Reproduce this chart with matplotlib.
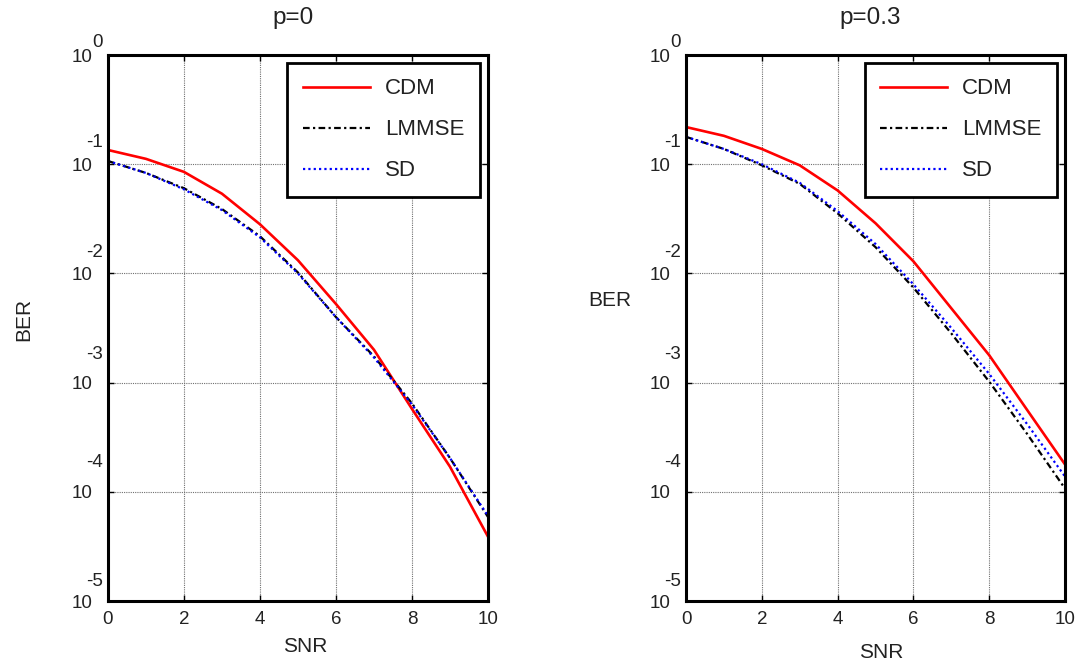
import matplotlib
matplotlib.use("Agg")
import matplotlib.pyplot as plt
import matplotlib.transforms as mtransforms
from matplotlib.ticker import NullLocator

plt.rcParams['font.family'] = ['Liberation Sans', 'DejaVu Sans']

# SNR axis (dB)
snr = [0, 1, 2, 3, 4, 5, 6, 7, 8, 9, 10]

# Bit error rate, p = 0
ber_cdm_p0 = [0.135, 0.112, 0.0851, 0.0537, 0.0282, 0.0132, 0.00525, 0.00200,
              5.75e-4, 1.70e-4, 3.89e-5]
ber_lmmse_p0 = [0.107, 0.0832, 0.0603, 0.0389, 0.0219, 0.0102, 0.00398, 0.00174,
                6.46e-4, 2.04e-4, 5.89e-5]
ber_sd_p0 = [0.107, 0.0832, 0.0589, 0.0380, 0.0214, 0.0100, 0.00398, 0.00170,
             6.31e-4, 2.04e-4, 6.03e-5]

# Bit error rate, p = 0.3
ber_cdm_p03 = [0.219, 0.182, 0.138, 0.0977, 0.0575, 0.0288, 0.0129, 0.00479,
               0.00178, 5.62e-4, 1.78e-4]
ber_lmmse_p03 = [0.178, 0.138, 0.0977, 0.0661, 0.0355, 0.0174, 0.00741, 0.00282,
                 0.00102, 3.39e-4, 1.07e-4]
ber_sd_p03 = [0.178, 0.138, 0.100, 0.0676, 0.0372, 0.0186, 0.00794, 0.00316,
              0.00120, 4.17e-4, 1.38e-4]

titles = ['p=0', 'p=0.3']
series_names = ['CDM', 'LMMSE', 'SD']
x_ticks = [0, 2, 4, 6, 8, 10]
y_exponents = [0, -1, -2, -3, -4, -5]

TEXT = '#222222'

fig = plt.figure(figsize=(10.86, 6.63), dpi=100)
ax_left = fig.add_axes([0.0994, 0.0935, 0.3499, 0.8235])
ax_right = fig.add_axes([0.6317, 0.0935, 0.3490, 0.8235])

panels = [
    (ax_left, titles[0], [ber_cdm_p0, ber_lmmse_p0, ber_sd_p0]),
    (ax_right, titles[1], [ber_cdm_p03, ber_lmmse_p03, ber_sd_p03]),
]

styles = [
    dict(color='#ff0000', lw=1.9, linestyle='-'),
    dict(color='black', lw=1.6, linestyle=(0, (3, 1.5, 1, 1.5))),
    dict(color='#0000ff', lw=1.6, linestyle=(0, (1, 1.4))),
]

# exponent offsets (points above the "10") for each decade label
exp_offsets = [9, 16, 15, 20, 21, 14]

for ax, title, data in panels:
    for vals, name, st in zip(data, series_names, styles):
        ax.plot(snr, vals, label=name, **st)
    ax.set_yscale('log')
    ax.set_xlim(0, 10)
    ax.set_ylim(1e-5, 1)
    ax.set_xticks(x_ticks)
    ax.set_xticklabels([str(t) for t in x_ticks])
    ax.set_yticks([10.0 ** e for e in y_exponents])
    ax.set_yticklabels(['10'] * len(y_exponents))
    ax.yaxis.set_minor_locator(NullLocator())
    ax.grid(True, which='major', color='#707070', linestyle=(0, (1, 1)), lw=0.8)
    ax.tick_params(axis='both', direction='in', length=4, width=1,
                   top=True, right=True, labelsize=13.5, colors='black',
                   labelcolor=TEXT)
    ax.tick_params(axis='y', pad=11)
    ax.tick_params(axis='x', pad=7)
    for sp in ax.spines.values():
        sp.set_linewidth(2.2)
        sp.set_color('black')
    ax.set_title(title, fontsize=17.5, x=0.487, y=1.068, va='center', pad=0,
                 color=TEXT)
    ax.set_xlabel('SNR', fontsize=15, color=TEXT)
    trans = mtransforms.blended_transform_factory(ax.transAxes, ax.transData)
    for e, off in zip(y_exponents, exp_offsets):
        ax.annotate(str(e), xy=(0, 10.0 ** e), xycoords=trans,
                    xytext=(-3.5, off), textcoords='offset points',
                    ha='right', va='center', fontsize=13.5, color=TEXT)
    leg = ax.legend(loc='upper right', bbox_to_anchor=(1, 1), fontsize=16,
                    frameon=True, fancybox=False, borderaxespad=0.35,
                    borderpad=0.7, handlelength=3.0, handletextpad=0.7,
                    labelspacing=0.9)
    leg.get_frame().set_edgecolor('black')
    leg.get_frame().set_linewidth(2.0)
    leg.get_frame().set_alpha(1)
    for t in leg.get_texts():
        t.set_color(TEXT)

ax_left.xaxis.set_label_coords(0.518, -0.066)
ax_right.xaxis.set_label_coords(0.516, -0.077)

ax_left.set_ylabel('BER', fontsize=15, color=TEXT)
ax_left.yaxis.set_label_coords(-0.197, 0.515)
ax_right.set_ylabel('BER', fontsize=15, rotation=0, ha='center', va='center',
                    color=TEXT)
ax_right.yaxis.set_label_coords(-0.2, 0.551)

fig.savefig('out.png', dpi=100)
